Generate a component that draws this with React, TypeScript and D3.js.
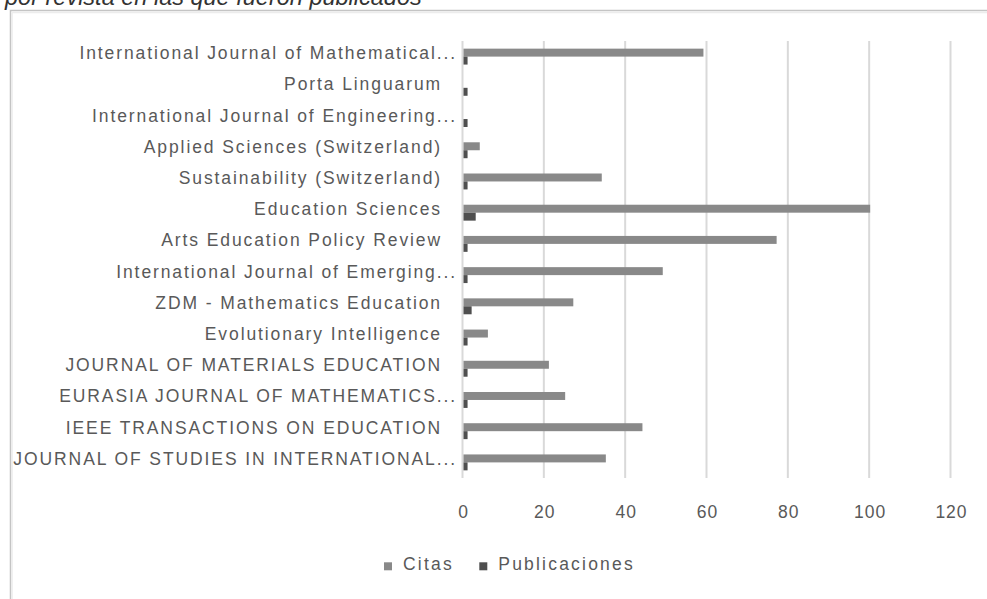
import * as d3 from "d3";
import React, { useEffect, useRef } from "react";

// revistas, de arriba hacia abajo
const journals = [
  "International Journal of Mathematical...",
  "Porta Linguarum",
  "International Journal of Engineering...",
  "Applied Sciences (Switzerland)",
  "Sustainability (Switzerland)",
  "Education Sciences",
  "Arts Education Policy Review",
  "International Journal of Emerging...",
  "ZDM - Mathematics Education",
  "Evolutionary Intelligence",
  "JOURNAL OF MATERIALS EDUCATION",
  "EURASIA JOURNAL OF MATHEMATICS...",
  "IEEE TRANSACTIONS ON EDUCATION",
  "JOURNAL OF STUDIES IN INTERNATIONAL...",
];
const citas = [59, 0, 0, 4, 34, 100, 77, 49, 27, 6, 21, 25, 44, 35];
const publicaciones = [1, 1, 1, 1, 1, 3, 1, 1, 2, 1, 1, 1, 1, 1];
const seriesNames = ["Citas", "Publicaciones"];
const xTicks = [0, 20, 40, 60, 80, 100, 120];
const titleText = "por revista en las que fueron publicados";

const W = 987, H = 599;
const FONT = "'Liberation Sans', Arial, sans-serif";
const TEXT = "#595959";
const colors = ["#898989", "#4f4f4f"];

const App = () => {
  const ref = useRef<SVGSVGElement>(null);

  useEffect(() => {
    const svg = d3.select(ref.current);
    svg.selectAll("*").remove();

    // title (cut off at the top of the picture)
    svg.append("text")
      .attr("x", 5)
      .attr("y", 5)
      .attr("font-family", FONT)
      .attr("font-style", "italic")
      .attr("font-size", 23.5)
      .attr("fill", "#333")
      .text(titleText);

    // chart frame
    svg.append("rect")
      .attr("x", 10.5).attr("y", 10.5)
      .attr("width", 1000).attr("height", 700)
      .attr("fill", "#fff")
      .attr("stroke", "#c4c4c4")
      .attr("stroke-width", 1.5);
    svg.append("path")
      .attr("d", `M12,12.5H${W}M12,12.5V${H}`)
      .attr("stroke", "#ececec")
      .attr("stroke-width", 1.5)
      .attr("fill", "none");

    const x = d3.scaleLinear().domain([0, 120]).range([462.5, 950.5]);
    const y = d3.scaleBand<string>()
      .domain(journals)
      .range([41, 478])
      .paddingInner(0.49)
      .paddingOuter(0.245);
    const inner = d3.scaleBand<string>()
      .domain(seriesNames)
      .range([0, y.bandwidth()]);

    const g = svg.append("g");

    // gridlines
    g.selectAll(".grid")
      .data(xTicks)
      .join("line")
      .attr("x1", d => x(d)).attr("x2", d => x(d))
      .attr("y1", 41).attr("y2", 478)
      .attr("stroke", "#d9d9d9")
      .attr("stroke-width", 2);

    // bars
    const rows = journals.map((j, i) => ({ j, vals: [citas[i], publicaciones[i]] }));
    const row = g.selectAll(".row")
      .data(rows)
      .join("g")
      .attr("transform", d => `translate(0,${y(d.j)})`);
    row.selectAll("rect")
      .data(d => d.vals.map((v, k) => ({ v, s: seriesNames[k], k })))
      .join("rect")
      .attr("x", x(0) + 1)
      .attr("y", d => inner(d.s)!)
      .attr("width", d => Math.max(0, x(d.v) - x(0)))
      .attr("height", inner.bandwidth())
      .attr("fill", d => colors[d.k]);

    // category labels (full names sit a little further from the axis)
    g.selectAll(".lab")
      .data(journals)
      .join("text")
      .attr("x", d => d.endsWith("...") ? 457 : 442)
      .attr("y", d => y(d)! + y.bandwidth() / 2 + 2.5)
      .attr("text-anchor", "end")
      .attr("font-family", FONT)
      .attr("font-size", 17.5)
      .attr("letter-spacing", 1.9)
      .attr("fill", TEXT)
      .text(d => d);

    // x tick labels
    g.selectAll(".tick")
      .data(xTicks)
      .join("text")
      .attr("x", d => x(d) + 1)
      .attr("y", 518)
      .attr("text-anchor", "middle")
      .attr("font-family", FONT)
      .attr("font-size", 17.5)
      .attr("letter-spacing", 1)
      .attr("fill", TEXT)
      .text(d => d);

    // legend
    const legendX = [384, 479.3];
    const legend = svg.append("g");
    seriesNames.forEach((s, i) => {
      legend.append("rect")
        .attr("x", legendX[i]).attr("y", 562.3)
        .attr("width", 8).attr("height", 8)
        .attr("fill", colors[i]);
      legend.append("text")
        .attr("x", legendX[i] + 19)
        .attr("y", 570)
        .attr("font-family", FONT)
        .attr("font-size", 17.5)
        .attr("letter-spacing", 2.2)
        .attr("fill", TEXT)
        .text(s);
    });
  }, []);

  return (
    <svg
      ref={ref}
      width={W}
      height={H}
      style={{ position: "fixed", left: 0, top: 0, background: "#fff" }}
    />
  );
};

export default App;
